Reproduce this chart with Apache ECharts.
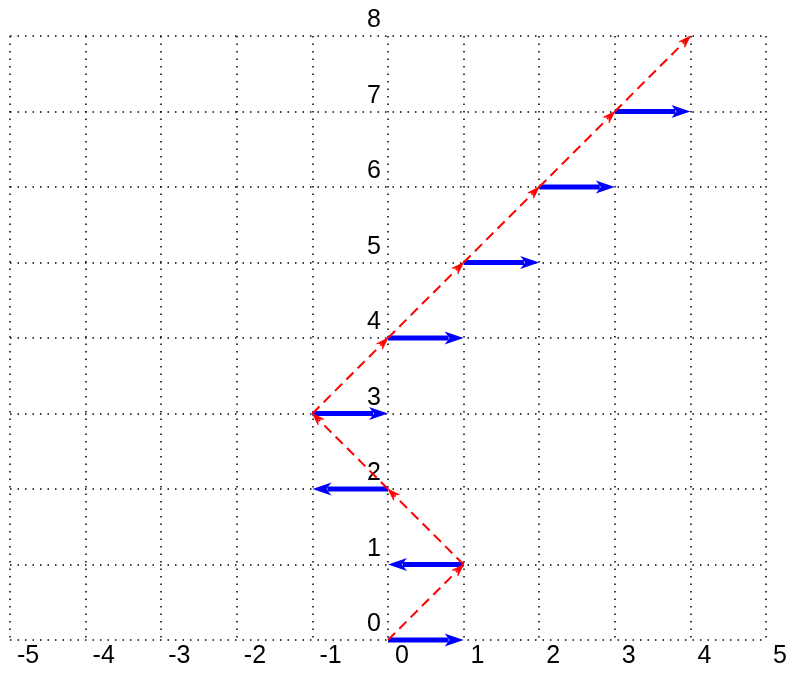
<!DOCTYPE html>
<html>
<head>
<meta charset="utf-8">
<script src="https://cdn.jsdelivr.net/npm/echarts@6/dist/echarts.min.js"></script>
<style>
html,body{margin:0;padding:0;background:#fff;}
#chart{width:791px;height:673px;}
</style>
</head>
<body>
<div id="chart"></div>
<script>
// Axis ranges / ticks
const xMin = -5, xMax = 5, xStep = 1;
const yMin = 0, yMax = 8, yStep = 1;

// Blue horizontal arrows (one per row)
const blueY      = [0, 1, 2, 3, 4, 5, 6, 7];
const blueStartX = [0, 1, 0, -1, 0, 1, 2, 3];
const blueEndX   = [1, 0, -1, 0, 1, 2, 3, 4];

// Red dashed path vertices (arrow on each segment)
const redX = [0, 1, 0, -1, 0, 1, 2, 3, 4];
const redY = [0, 1, 2, 3, 4, 5, 6, 7, 8];

const blueData = blueY.map((y, i) => [blueStartX[i], y, blueEndX[i], y]);
const redData = [];
for (let i = 0; i < redX.length - 1; i++) {
  redData.push([redX[i], redY[i], redX[i + 1], redY[i + 1]]);
}

function arrowItem(api, opt) {
  const p1 = api.coord([api.value(0), api.value(1)]);
  const p2 = api.coord([api.value(2), api.value(3)]);
  const dx = p2[0] - p1[0], dy = p2[1] - p1[1];
  const len = Math.sqrt(dx * dx + dy * dy);
  const ux = dx / len, uy = dy / len;
  const nx = -uy, ny = ux;
  const L = opt.headLen, W = opt.headHalf, N = opt.notch;
  const back = [p2[0] - ux * L, p2[1] - uy * L];
  const notch = [p2[0] - ux * N, p2[1] - uy * N];
  const shaftEnd = [p2[0] - ux * (N + 1), p2[1] - uy * (N + 1)];
  return {
    type: 'group',
    children: [
      {
        type: 'line',
        shape: { x1: p1[0], y1: p1[1], x2: shaftEnd[0], y2: shaftEnd[1] },
        style: { stroke: opt.color, lineWidth: opt.lineWidth, lineDash: opt.dash || null, lineCap: 'butt' }
      },
      {
        type: 'polygon',
        shape: {
          points: [
            [p2[0], p2[1]],
            [back[0] + nx * W, back[1] + ny * W],
            notch,
            [back[0] - nx * W, back[1] - ny * W]
          ]
        },
        style: { fill: opt.color, stroke: opt.color, lineWidth: opt.headStroke || 0, lineJoin: 'miter' }
      }
    ]
  };
}

const chartEl = document.getElementById('chart');
const chart = echarts.init(chartEl, null, { renderer: 'canvas' });

const gridLeft = 10, gridRight = 25;
// place the y axis (and its labels) at x = 0
const plotWidth = 791 - gridLeft - gridRight;
const yAxisOffset = -plotWidth * (0 - xMin) / (xMax - xMin);

const labelFont = { fontFamily: 'Liberation Sans, Arial, sans-serif', fontSize: 25, color: '#000' };

chart.setOption({
  animation: false,
  backgroundColor: '#fff',
  grid: { left: gridLeft, right: gridRight, top: 36, bottom: 33, containLabel: false, outerBoundsMode: 'none' },
  xAxis: {
    type: 'value', min: xMin, max: xMax, interval: xStep,
    axisLine: { show: false, onZero: false },
    axisTick: { show: false },
    splitLine: { show: true, lineStyle: { color: '#000', width: 1.5, type: [1.5, 6] } },
    axisLabel: Object.assign({ margin: 4, align: 'left', padding: [0, 0, 0, 7], showMinLabel: true, showMaxLabel: true, hideOverlap: false }, labelFont)
  },
  yAxis: {
    type: 'value', min: yMin, max: yMax, interval: yStep,
    position: 'left',
    offset: yAxisOffset,
    axisLine: { show: false, onZero: false },
    axisTick: { show: false },
    splitLine: { show: true, lineStyle: { color: '#000', width: 1.5, type: [1.5, 6] } },
    axisLabel: Object.assign({ margin: 7, align: 'right', verticalAlign: 'bottom', padding: [0, 0, 3, 0], showMinLabel: true, showMaxLabel: true, hideOverlap: false }, labelFont)
  },
  series: [
    {
      type: 'custom',
      name: 'blue',
      data: blueData,
      clip: false,
      z: 2,
      renderItem: function (params, api) {
        return arrowItem(api, { color: '#0000ff', lineWidth: 5, headLen: 19, headHalf: 6.5, notch: 14 });
      }
    },
    {
      type: 'custom',
      name: 'red',
      data: redData,
      clip: false,
      z: 3,
      renderItem: function (params, api) {
        return arrowItem(api, { color: '#ff0000', lineWidth: 2, dash: [10, 6], headLen: 12, headHalf: 4, notch: 8, headStroke: 0.8 });
      }
    }
  ]
});
</script>
</body>
</html>
